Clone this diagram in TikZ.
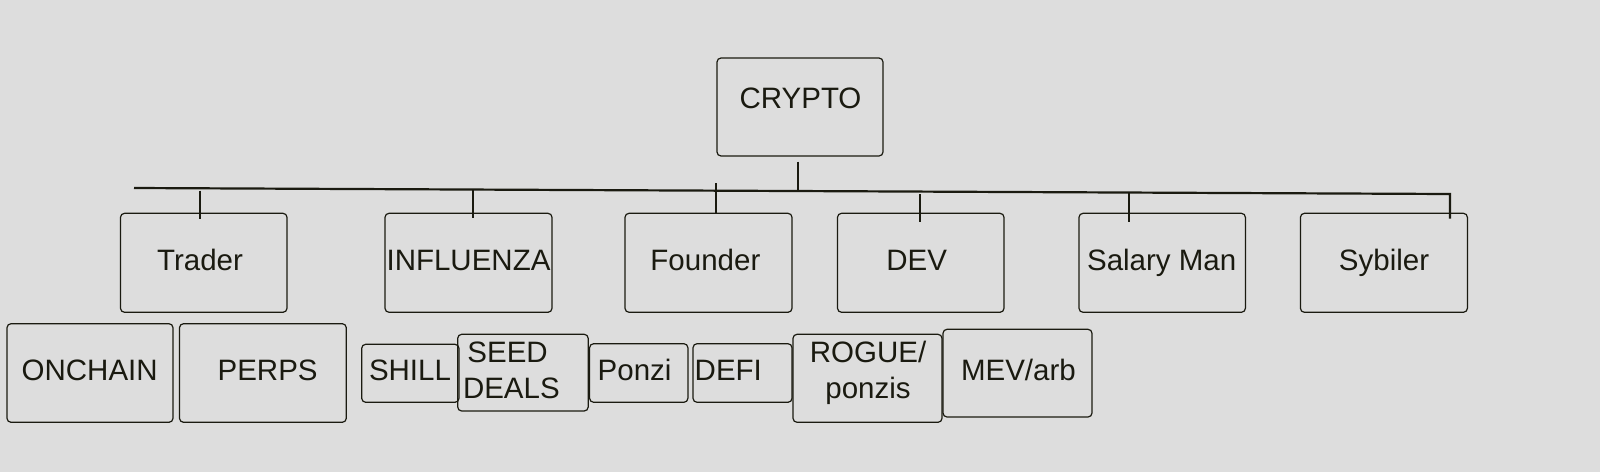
\documentclass[tikz,border=0pt]{standalone}
\usepackage{fontspec}
\setmainfont{Liberation Sans}
\definecolor{bgc}{RGB}{221,221,221}
\definecolor{ink}{RGB}{26,26,16}
\tikzset{
  box/.style={draw=ink, line width=1.2pt, rounded corners=4pt, inner sep=0pt, rectangle},
  txt/.style={inner sep=0pt, anchor=base, text=ink, font=\fontsize{29.5}{34}\selectfont},
  txtw/.style={txt, anchor=base west},
  conn/.style={draw=ink, line width=2.2pt},
}
\newcommand{\bx}[5]{\node[box, minimum width={(#4-#2)*1pt}, minimum height={(#5-#3)*1pt}] (#1) at ({(#2+#4)/2},{(#3+#5)/2}) {};}
\begin{document}
\begin{tikzpicture}[x=1pt,y=-1pt]
\fill[bgc] (0,0) rectangle (1600,472);
\useasboundingbox (0,0) rectangle (1600,472);
% root
\bx{crypto}{717}{58}{883}{156}
\node[txt] (cryptot) at (800.5,108.3) {CRYPTO};
% level 2
\bx{trader}{120.5}{213.3}{287}{312.3}
\bx{influ}{385}{213.3}{552}{312.3}
\bx{founder}{625}{213.3}{792}{312.3}
\bx{dev}{837.5}{213.3}{1004}{312.3}
\bx{salary}{1079}{213.3}{1245.4}{312.3}
\bx{sybiler}{1300.4}{213.3}{1467.4}{312.3}
\node[txt] (tradert) at (200,270.7) {Trader};
\node[txt] (influt) at (468.5,270.7) {INFLUENZA};
\node[txt] (foundert) at (705.4,270.7) {Founder};
\node[txt] (devt) at (916.6,270.7) {DEV};
\node[txt] (salaryt) at (1161.7,270.7) {Salary Man};
\node[txt] (sybilert) at (1384,270.7) {Sybiler};
% level 3
\bx{onchain}{7}{323.7}{173}{422.3}
\bx{perps}{179.5}{323.7}{346.3}{422.3}
\bx{shill}{361.7}{344.3}{459}{402.3}
\bx{seed}{457.7}{334.3}{588.2}{411}
\bx{ponzi}{589.6}{343.7}{687.9}{402.3}
\bx{defi}{693}{343.7}{792}{402.3}
\bx{rogue}{793}{334.3}{942}{422.3}
\bx{mev}{943}{329.3}{1092}{417}
\node[txt] (onchaint) at (89.7,380.7) {ONCHAIN};
\node[txt] (perpst) at (267.6,380.7) {PERPS};
\node[txt] (shillt) at (410,380.7) {SHILL};
\node[txtw] (seedt) at (467.2,362.3) {SEED};
\node[txtw] (dealst) at (462.8,398.3) {DEALS};
\node[txt] (ponzit) at (634.6,380.7) {Ponzi};
\node[txtw] (defit) at (694.5,380.7) {DEFI};
\node[txt] (roguet) at (868,362.3) {ROGUE/};
\node[txt] (ponzist) at (868,398.3) {ponzis};
\node[txt] (mevt) at (1018.4,380.7) {MEV/arb};
% connectors
\coordinate (busL) at (134,188);
\coordinate (busR) at (1450,194);
\coordinate (stemB) at (798,190.7);
\draw[conn] (busL) -- (busR) -- ([yshift=-6pt]busR |- sybiler.north);
\draw[conn] ([yshift=-5pt]crypto.south -| stemB) -- (stemB);
\coordinate (tkTrader) at (200,190.7);
\coordinate (tkInflu) at (473,190);
\coordinate (tkFounder) at (716,183);
\coordinate (tkDev) at (920,194);
\coordinate (tkSalary) at (1128.6,193);
\draw[conn] (tkTrader) -- ([yshift=-6pt]tkTrader |- trader.north);
\draw[conn] (tkInflu) -- ([yshift=-5pt]tkInflu |- influ.north);
\draw[conn] (tkFounder) -- (tkFounder |- founder.north);
\draw[conn] (tkDev) -- ([yshift=-9pt]tkDev |- dev.north);
\draw[conn] (tkSalary) -- ([yshift=-9pt]tkSalary |- salary.north);
\end{tikzpicture}
\end{document}
